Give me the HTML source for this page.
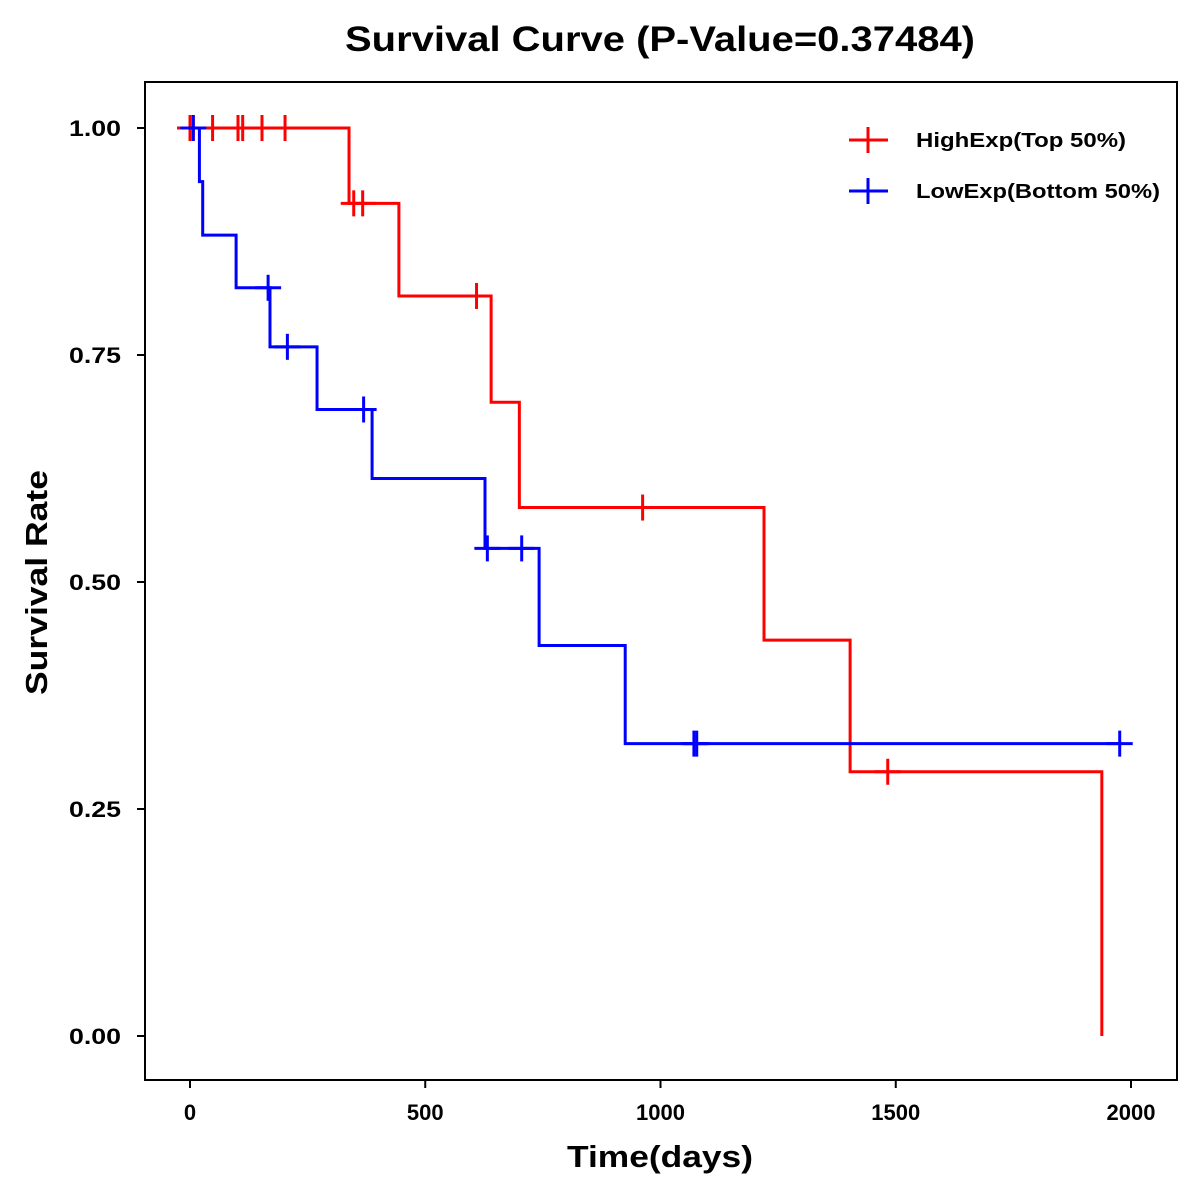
<!DOCTYPE html>
<html><head><meta charset="utf-8"><style>
html,body{margin:0;padding:0;background:#fff;}
svg{display:block;font-family:"Liberation Sans",Arial,sans-serif;}
</style></head><body>
<svg id="chart" width="1200" height="1200" viewBox="0 0 1200 1200">
<rect x="0" y="0" width="1200" height="1200" fill="#fff"/>
<text x="345" y="51" font-size="35" font-weight="bold" textLength="630" lengthAdjust="spacingAndGlyphs">Survival Curve (P-Value=0.37484)</text>
<rect x="145" y="82" width="1032" height="998" fill="none" stroke="#000" stroke-width="2"/>
<text x="567" y="1167" font-size="31" font-weight="bold" textLength="186" lengthAdjust="spacingAndGlyphs">Time(days)</text>
<text transform="translate(47,695) rotate(-90)" font-size="31" font-weight="bold" textLength="225" lengthAdjust="spacingAndGlyphs">Survival Rate</text>
<g id="axes"></g>
<g id="series"></g>
<g>
<g>
<line x1="849" y1="140" x2="888" y2="140" stroke="#f00" stroke-width="3"/>
<line x1="868" y1="127" x2="868" y2="153" stroke="#f00" stroke-width="3"/>
<text x="916" y="147" font-size="20" font-weight="bold" textLength="210" lengthAdjust="spacingAndGlyphs">HighExp(Top 50%)</text>
</g>
<g>
<line x1="849" y1="191" x2="888" y2="191" stroke="#00f" stroke-width="3"/>
<line x1="868" y1="178" x2="868" y2="204" stroke="#00f" stroke-width="3"/>
<text x="916" y="198" font-size="20" font-weight="bold" textLength="244" lengthAdjust="spacingAndGlyphs">LowExp(Bottom 50%)</text>
</g>
</g>
</svg>
<script>
const xTicks = [0, 500, 1000, 1500, 2000];
const yTicks = [0, 0.25, 0.5, 0.75, 1.0];
const yTickLabels = ["0.00", "0.25", "0.50", "0.75", "1.00"];
const highTimes = [0, 338, 444, 640, 700, 1220, 1403, 1938];
const highSurv = [1.0, 0.917, 0.815, 0.698, 0.582, 0.436, 0.291, 0.0];
const highCensor = [0, 7, 48, 102, 112, 153, 202, 348, 367, 609, 962, 1483];
const lowTimes = [0, 20, 27, 98, 170, 270, 387, 627, 742, 925];
const lowSurv = [1.0, 0.941, 0.882, 0.824, 0.759, 0.690, 0.614, 0.537, 0.430, 0.322];
const lowCensor = [7, 166, 207, 369, 632, 705, 1071, 1077, 1976];
const lowEnd = 1980;

const NS = "http://www.w3.org/2000/svg";
function xs(t){ return 190 + t * (1131 - 190) / 2000; }
function ys(s){ return 1036 - s * (1036 - 128); }
function mk(tag, attrs, parent){
  const e = document.createElementNS(NS, tag);
  for (const k in attrs) e.setAttribute(k, attrs[k]);
  parent.appendChild(e); return e;
}
const axes = document.getElementById('axes');
xTicks.forEach(function(t){
  const g = mk('g', {}, axes);
  
  
  mk('line', {x1: xs(t), x2: xs(t), y1: 1080, y2: 1088, stroke: '#000', 'stroke-width': 2}, g);
  const tx = mk('text', {x: xs(t), y: 1120, 'text-anchor': 'middle', 'font-size': 22, 'font-weight': 'bold'}, g);
  tx.textContent = String(t);
});
yTicks.forEach(function(v, i){
  const g = mk('g', {}, axes);
  
  
  mk('line', {x1: 137, x2: 145, y1: ys(v), y2: ys(v), stroke: '#000', 'stroke-width': 2}, g);
  const tx = mk('text', {x: 121, y: ys(v) + 8, 'text-anchor': 'end', 'font-size': 22, 'font-weight': 'bold', textLength: 52, lengthAdjust: 'spacingAndGlyphs'}, g);
  tx.textContent = yTickLabels[i];
});
function survAt(times, surv, t){
  let s = surv[0];
  for (let i = 0; i < times.length; i++) if (times[i] <= t) s = surv[i];
  return s;
}
function drawSeries(times, surv, censor, endT, color, name){
  const g = mk('g', {}, document.getElementById('series'));
  
  
  let d = 'M' + xs(times[0]) + ',' + ys(surv[0]);
  for (let i = 1; i < times.length; i++){
    d += ' H' + xs(times[i]) + ' V' + ys(surv[i]);
  }
  d += ' H' + xs(endT);
  const p = mk('path', {d: d, fill: 'none', stroke: color, 'stroke-width': 3}, g);
  
  
  censor.forEach(function(t){
    const s = survAt(times, surv, t);
    const c = mk('g', {}, g);
    
    
    mk('line', {x1: xs(t) - 13, x2: xs(t) + 13, y1: ys(s), y2: ys(s), stroke: color, 'stroke-width': 3}, c);
    mk('line', {x1: xs(t), x2: xs(t), y1: ys(s) - 13, y2: ys(s) + 13, stroke: color, 'stroke-width': 3}, c);
  });
}
drawSeries(highTimes, highSurv, highCensor, highTimes[highTimes.length - 1], '#ff0000', 'high-exp-series');
drawSeries(lowTimes, lowSurv, lowCensor, lowEnd, '#0000ff', 'low-exp-series');
</script>
</body></html>
